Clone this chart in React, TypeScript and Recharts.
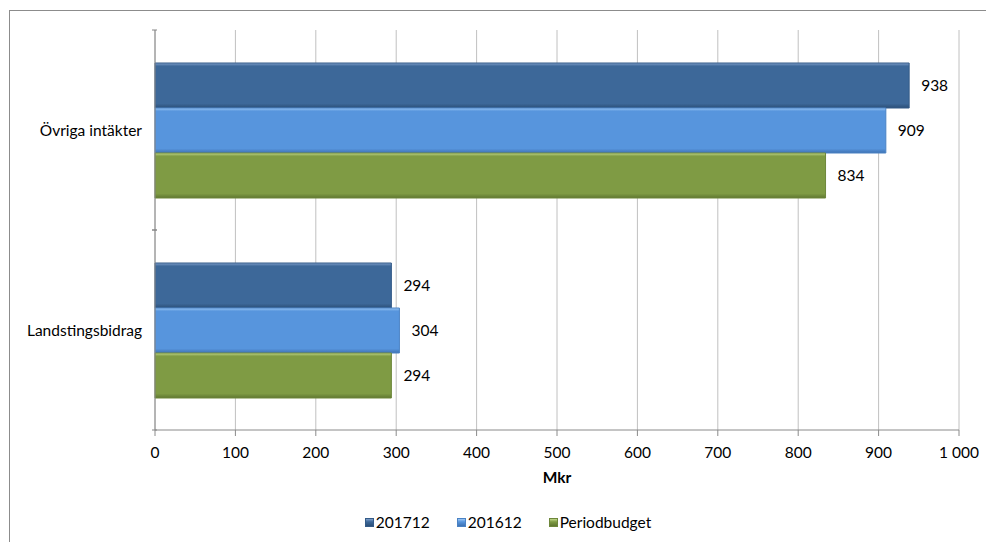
import React from "react";
import {
  BarChart,
  Bar,
  XAxis,
  YAxis,
  CartesianGrid,
  LabelList,
} from "recharts";

const categories = ["Övriga intäkter", "Landstingsbidrag"];
const values201712 = [938, 294];
const values201612 = [909, 304];
const valuesBudget = [834, 294];
const xTicks = [0, 100, 200, 300, 400, 500, 600, 700, 800, 900, 1000];

const seriesNames = ["201712", "201612", "Periodbudget"];

const data = categories.map((name, i) => ({
  name,
  s201712: values201712[i],
  s201612: values201612[i],
  budget: valuesBudget[i],
}));

const FONT = "Lato, 'Open Sans', sans-serif";
const FS = 15.5;

const colors = {
  dark: { top: "#7f9fcb", main: "#3d6899", bottom: "#2c4f78", stroke: "#345b88" },
  light: { top: "#9cc7f4", main: "#5795dd", bottom: "#3f73b3", stroke: "#4a82c4" },
  green: { top: "#c1d88a", main: "#7f9b44", bottom: "#5f7731", stroke: "#6e873b" },
};

const Grad = ({ id, c }: { id: string; c: typeof colors.dark }) => (
  <linearGradient id={id} x1="0" y1="0" x2="0" y2="1">
    <stop offset="0" stopColor={c.top} />
    <stop offset="0.07" stopColor={c.main} />
    <stop offset="0.9" stopColor={c.main} />
    <stop offset="1" stopColor={c.bottom} />
  </linearGradient>
);

const fmt = (v: number) =>
  v >= 1000 ? `${Math.floor(v / 1000)} ${String(v % 1000).padStart(3, "0")}` : String(v);

// category label plus Excel-style boundary ticks
const CatTick = (props: any) => {
  const { x, y, payload } = props;
  const off = payload.offset || 0;
  return (
    <g>
      <line x1={x + 5} x2={x + 10} y1={y - off} y2={y - off} stroke="#868686" />
      <line x1={x + 5} x2={x + 10} y1={y + off} y2={y + off} stroke="#868686" />
      <text
        x={x - 5}
        y={y}
        textAnchor="end"
        dominantBaseline="central"
        fontSize={FS}
        fontFamily={FONT}
        fill="#000"
      >
        {payload.value}
      </text>
    </g>
  );
};

const legendItems = [
  { name: seriesNames[0], c: colors.dark },
  { name: seriesNames[1], c: colors.light },
  { name: seriesNames[2], c: colors.green },
];

export default function App() {
  return (
    <div
      style={{
        position: "absolute",
        left: 0,
        top: 0,
        width: 986,
        height: 542,
        overflow: "hidden",
        background: "#fff",
        fontFamily: FONT,
      }}
    >
      <div
        style={{
          position: "absolute",
          left: 9,
          top: 10,
          width: 1100,
          height: 600,
          border: "1.5px solid #8c8c8c",
        }}
      />
      <BarChart
        width={986}
        height={542}
        data={data}
        layout="vertical"
        margin={{ top: 30, right: 27, left: 10, bottom: 52 }}
        barCategoryGap="16.5%"
        barGap={0}
        style={{ position: "absolute", left: 0, top: 0 }}
      >
        <defs>
          <Grad id="gDark" c={colors.dark} />
          <Grad id="gLight" c={colors.light} />
          <Grad id="gGreen" c={colors.green} />
        </defs>
        <CartesianGrid horizontal={false} stroke="#c0c0c0" />
        <XAxis
          type="number"
          domain={[0, 1000]}
          ticks={xTicks}
          tickFormatter={fmt}
          height={60}
          stroke="#8a8a8a"
          tickSize={6}
          tick={{ fontSize: FS, fill: "#000", fontFamily: FONT }}
          tickMargin={11}
          label={{
            value: "Mkr",
            position: "insideTop",
            offset: 42,
            style: { fontWeight: "bold", fontSize: FS, fill: "#000", fontFamily: FONT },
          }}
        />
        <YAxis
          type="category"
          dataKey="name"
          width={145}
          stroke="#8a8a8a"
          tickLine={false}
          tick={<CatTick />}
        />
        <Bar dataKey="s201712" name={seriesNames[0]} fill="url(#gDark)" stroke={colors.dark.stroke} isAnimationActive={false}>
          <LabelList dataKey="s201712" position="right" offset={12} fill="#000" fontSize={FS} fontFamily={FONT} />
        </Bar>
        <Bar dataKey="s201612" name={seriesNames[1]} fill="url(#gLight)" stroke={colors.light.stroke} isAnimationActive={false}>
          <LabelList dataKey="s201612" position="right" offset={12} fill="#000" fontSize={FS} fontFamily={FONT} />
        </Bar>
        <Bar dataKey="budget" name={seriesNames[2]} fill="url(#gGreen)" stroke={colors.green.stroke} isAnimationActive={false}>
          <LabelList dataKey="budget" position="right" offset={12} fill="#000" fontSize={FS} fontFamily={FONT} />
        </Bar>
      </BarChart>
      <div
        style={{
          position: "absolute",
          left: 0,
          width: 986,
          top: 513,
          display: "flex",
          justifyContent: "center",
          gap: 27,
          fontSize: FS,
          color: "#000",
          paddingLeft: 30,
          boxSizing: "border-box",
        }}
      >
        {legendItems.map((it) => (
          <span key={it.name} style={{ display: "flex", alignItems: "center", gap: 2 }}>
            <span
              style={{
                width: 9,
                height: 9,
                background: `linear-gradient(${it.c.top}, ${it.c.main} 40%, ${it.c.bottom})`,
                border: `1px solid ${it.c.stroke}`,
                boxSizing: "border-box",
              }}
            />
            {it.name}
          </span>
        ))}
      </div>
    </div>
  );
}
